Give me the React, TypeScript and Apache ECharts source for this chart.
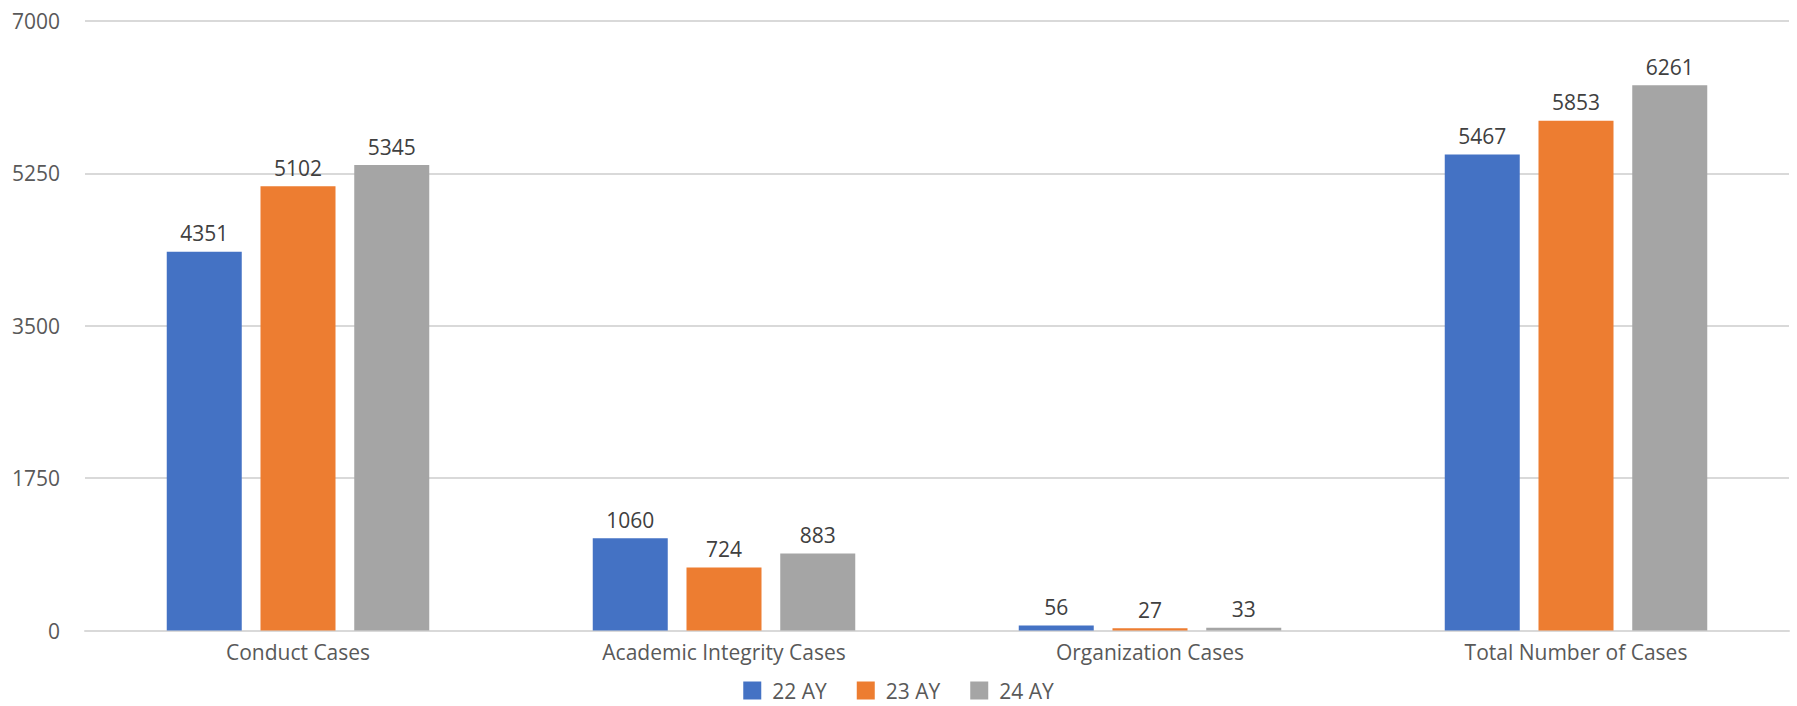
import React, { useEffect, useRef } from "react";
import * as echarts from "echarts";

const categories = ["Conduct Cases", "Academic Integrity Cases", "Organization Cases", "Total Number of Cases"];
const seriesNames = ["22 AY", "23 AY", "24 AY"];
const values22 = [4351, 1060, 56, 5467];
const values23 = [5102, 724, 27, 5853];
const values24 = [5345, 883, 33, 6261];
const colors = ["#4472C4", "#ED7D31", "#A5A5A5"];

const FONT = "'Open Sans', 'Noto Sans', sans-serif";

export default function App() {
  const ref = useRef<HTMLDivElement>(null);
  useEffect(() => {
    document.body.style.margin = "0";
    const chart = echarts.init(ref.current!, null, { renderer: "svg" });
    const data = [values22, values23, values24];
    chart.setOption({
      animation: false,
      textStyle: { fontFamily: FONT },
      grid: { left: 85, right: 8, top: 21, bottom: 75.5, containLabel: false },
      legend: {
        bottom: 0,
        left: "center",
        itemWidth: 18,
        itemHeight: 18,
        itemGap: 30,
        icon: "rect",
        data: seriesNames,
        textStyle: { color: "#595959", fontSize: 21, fontFamily: FONT, padding: [0, 0, 0, 6] },
      },
      xAxis: {
        type: "category",
        data: categories,
        axisTick: { show: false },
        axisLine: { show: true, lineStyle: { color: "#d9d9d9", width: 2 } },
        axisLabel: { color: "#595959", fontSize: 21, margin: 11, fontFamily: FONT },
      },
      yAxis: {
        type: "value",
        min: 0,
        max: 7000,
        interval: 1750,
        axisLine: { show: false },
        axisTick: { show: false },
        splitLine: { lineStyle: { color: "#d9d9d9", width: 2 } },
        axisLabel: {
          color: "#595959",
          fontSize: 21,
          margin: 25,
          fontFamily: FONT,
          formatter: (v: number) => String(v),
        },
      },
      series: seriesNames.map((name, i) => ({
        name,
        type: "bar",
        data: data[i],
        barWidth: 75,
        barGap: "25%",
        itemStyle: { color: colors[i] },
        label: {
          show: true,
          position: "top",
          distance: 8,
          color: "#404040",
          fontSize: 21,
          fontFamily: FONT,
        },
      })),
    });
    return () => chart.dispose();
  }, []);
  return <div ref={ref} style={{ width: 1797, height: 706 }} />;
}
